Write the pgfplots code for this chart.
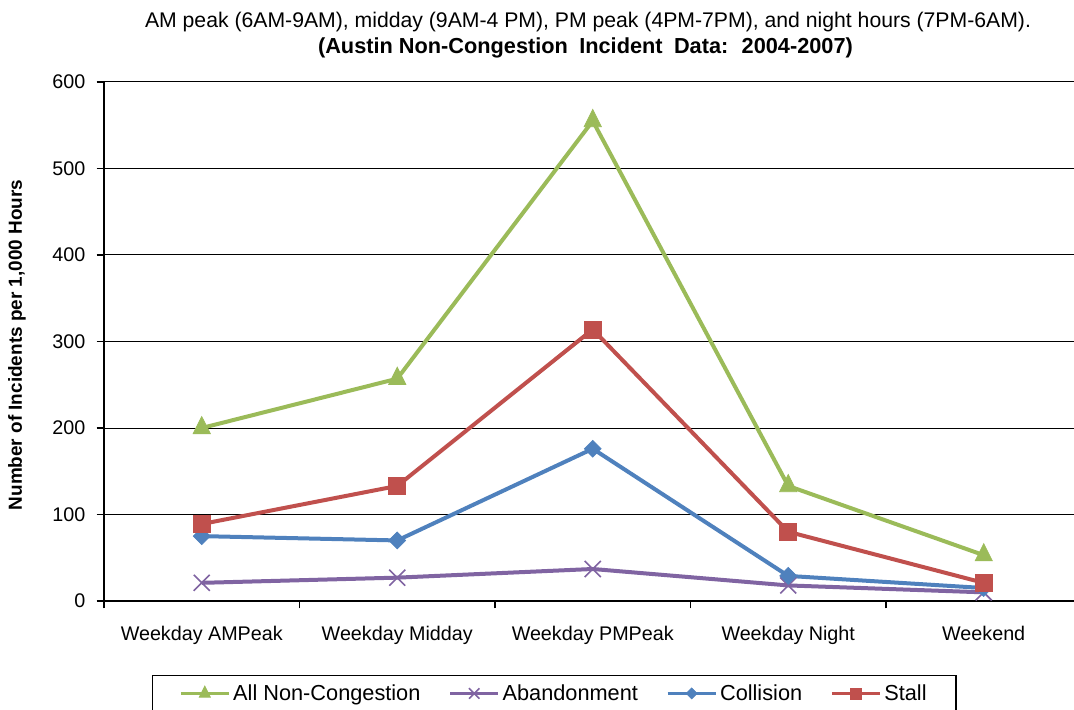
\documentclass[border=0pt]{standalone}
\usepackage{pgfplots}
\pgfplotsset{compat=1.18}
\usepackage{fontspec}
\setmainfont{Liberation Sans}
\definecolor{cgreen}{HTML}{9BBB59}
\definecolor{cred}{HTML}{C0504D}
\definecolor{cblue}{HTML}{4F81BD}
\definecolor{cpurple}{HTML}{8064A2}
\begin{document}
\begin{tikzpicture}
\begin{axis}[
  scale only axis,
  width=733.1pt, height=389.25pt,
  xmin=-0.5, xmax=4.5, ymin=0, ymax=600,
  axis x line*=bottom, axis y line*=left,
  axis line style={black, line width=1.1pt},
  xtick={-0.5,0.5,1.5,2.5,3.5,4.5},
  xticklabels={},
  extra x ticks={0,1,2,3,4},
  extra x tick labels={Weekday AMPeak, Weekday Midday, Weekday PMPeak, Weekday Night, Weekend},
  extra x tick style={major tick length=0pt, xticklabel style={yshift=-15pt}},
  ytick={0,100,...,600},
  ymajorgrids, grid style={black, line width=0.75pt},
  tick align=outside,
  tick style={black, line width=1pt},
  major tick length=5.5pt,
  /pgf/number format/assume math mode=true,
  tick label style={font=\fontsize{14.8}{17}\selectfont},
  yticklabel style={xshift=-5pt},
  legend columns=4,
  legend style={at={(0.049,-0.142)}, anchor=north west, draw=black, line width=0.8pt,
    font=\fontsize{16.3}{18}\selectfont, inner xsep=20pt, inner ysep=5pt,
    /tikz/every even column/.append style={column sep=19pt}},
  legend image code/.code={\draw[#1, line width=2.6pt, mark repeat=2, mark phase=2, every mark/.append style={scale=0.65}]
     plot coordinates {(0pt,0pt) (18pt,0pt) (36pt,0pt)};},
  every axis plot/.append style={line width=3pt},
]
\addplot[color=cgreen, mark=triangle*, mark size=7.5pt, mark options={solid, fill=cgreen, line width=0.5pt, yscale=1.15}]
  coordinates {(0,200) (1,257) (2,555) (3,133) (4,53)};
\addlegendentry{All Non-Congestion}
\addplot[color=cpurple, mark=x, mark size=8.5pt, mark options={solid, line width=1.2pt}]
  coordinates {(0,21) (1,27) (2,37) (3,18) (4,10)};
\addlegendentry{Abandonment}
\addplot[color=cblue, mark=square*, mark size=4.5pt, mark options={solid, fill=cblue, line width=0.5pt, rotate=45}]
  coordinates {(0,75) (1,70) (2,176) (3,29) (4,15)};
\addlegendentry{Collision}
\addplot[color=cred, mark=square*, mark size=6.4pt, mark options={solid, fill=cred, line width=0.5pt}]
  coordinates {(0,89) (1,133) (2,314) (3,80) (4,21)};
\addlegendentry{Stall}
\coordinate (O) at (rel axis cs:0,0);
\end{axis}
\node[font=\fontsize{15.9}{18}\selectfont] at ([xshift=363pt, yshift=434.25pt]O) {AM peak (6AM-9AM), midday (9AM-4 PM), PM peak (4PM-7PM), and night hours (7PM-6AM).};
\node[font=\fontsize{16.3}{18}\selectfont\bfseries] at ([xshift=361.1pt, yshift=415pt]O) {(Austin Non-Congestion\hspace{4pt} Incident\hspace{4pt} Data:\hspace{4pt} 2004-2007)};
\node[font=\fontsize{14.2}{16}\selectfont\bfseries, rotate=90] at ([xshift=-65.25pt, yshift=192pt]O) {Number of Incidents per 1,000 Hours};
\pgfresetboundingbox
\useasboundingbox ([xshift=-78pt, yshift=-81.75pt]O) rectangle ++(805.5pt,532.5pt);
\end{tikzpicture}
\end{document}
